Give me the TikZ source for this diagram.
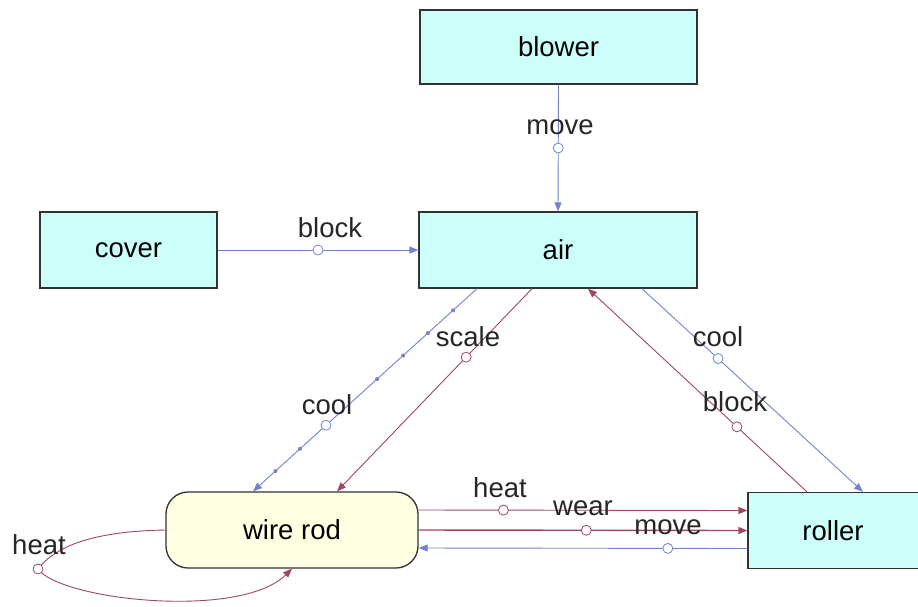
\documentclass[tikz,border=0pt]{standalone}
\usepackage{fontspec}
\setmainfont{Liberation Sans}
\usetikzlibrary{arrows.meta}
\definecolor{boxfill}{RGB}{204,255,250}
\definecolor{rodfill}{RGB}{255,255,226}
\definecolor{edgeblue}{RGB}{112,132,210}
\definecolor{edgered}{RGB}{160,70,100}
\definecolor{boxline}{RGB}{50,50,50}
\tikzset{
  objbox/.style={draw=boxline, line width=1.3pt, fill=boxfill, inner sep=0pt,
    font=\fontsize{27.5}{31}\selectfont},
  rodbox/.style={objbox, fill=rodfill, rounded corners=22pt},
  blueedge/.style={draw=edgeblue, line width=0.9pt, -{Triangle[length=9pt,width=7pt]}},
  rededge/.style={draw=edgered, line width=0.9pt, -{Triangle[length=9pt,width=7pt]}},
  ring/.style={circle, draw, fill=white, line width=0.8pt, minimum size=10pt, inner sep=0pt},
  trackdot/.style={circle, fill=edgeblue, minimum size=4pt, inner sep=0pt},
  lbl/.style={font=\fontsize{27.5}{31}\selectfont, inner sep=0pt, text=black!85},
}
\begin{document}
\begin{tikzpicture}[x=1pt,y=-1pt]
\useasboundingbox (0,0) rectangle (918,606);
\fill[white] (0,0) rectangle (918,606);

% objects
\node[objbox, minimum width=277pt, minimum height=74pt] (blower) at (558.5,47) {blower};
\node[objbox, minimum width=177pt, minimum height=76pt] (cover) at (128.5,250) {cover};
\node[objbox, minimum width=278pt, minimum height=76pt] (air) at (558,250) {air};
\node[rodbox, minimum width=252pt, minimum height=76pt] (rod) at (292,530) {wire rod};
\node[objbox, minimum width=184pt, minimum height=76pt] (roller) at (840,530.5) {\hspace*{-14pt}roller};

% blower -> air
\draw[blueedge] (blower.south) -- node[ring, draw=edgeblue, pos=0.5] (r1) {} (air.north);
\node[lbl] (l1) at (560,127) {move};

% cover -> air
\draw[blueedge] (cover.east) -- node[ring, draw=edgeblue, pos=0.5] (r2) {} (air.west);
\node[lbl] (l2) at (330,228) {block};

% air -> wire rod (cool, dotted track)
\draw[blueedge] ([xshift=-81pt]air.south) --
  node[trackdot, pos=0.107] (d1) {}
  node[trackdot, pos=0.219] (d2) {}
  node[trackdot, pos=0.330] (d3) {}
  node[trackdot, pos=0.446] (d4) {}
  node[trackdot, pos=0.790] (d5) {}
  node[trackdot, pos=0.900] (d6) {}
  node[ring, draw=edgeblue, pos=0.674] (r3) {} ([xshift=-39pt]rod.north);
\node[lbl] (l3) at (327,405) {cool};

% air -> wire rod (scale)
\draw[rededge] ([xshift=-26pt]air.south) -- node[ring, draw=edgered, pos=0.338] (r4) {} ([xshift=45pt]rod.north);
\node[lbl] (l4) at (468,337) {scale};

% air -> roller (cool)
\draw[blueedge] ([xshift=84pt]air.south) -- node[ring, draw=edgeblue, pos=0.344] (r5) {} ([xshift=23pt]roller.north);
\node[lbl] (l5) at (718,337) {cool};

% roller -> air (block)
\draw[rededge] ([xshift=-33pt]roller.north) -- node[ring, draw=edgered, pos=0.32] (r6) {} ([xshift=30pt]air.south);
\node[lbl] (l6) at (735,402) {block};

% wire rod -> roller (heat)
\draw[rededge] ([yshift=20pt]rod.east) -- node[ring, draw=edgered, pos=0.258] (r7) {} ([yshift=20pt]roller.west);
\node[lbl] (l7) at (500,488) {heat};

% wire rod -> roller (wear)
\draw[rededge, line width=1.4pt] (rod.east) -- node[ring, draw=edgered, line width=0.8pt, pos=0.51] (r8) {} (roller.west);
\node[lbl] (l8) at (583,508) {wear};

% roller -> wire rod (move)
\draw[blueedge] ([yshift=-18pt]roller.west) -- node[ring, draw=edgeblue, pos=0.242] (r9) {} ([yshift=-18pt]rod.east);
\node[lbl] (l9) at (668,527) {move};

% wire rod heats itself
\coordinate (loop) at (38,569);
\draw[edgered, line width=0.9pt] (rod.west) .. controls (110,531) and (60,540) .. (loop);
\draw[rededge] (loop) .. controls (60,600) and (240,620) .. (rod.south);
\node[ring, draw=edgered] (r10) at (loop) {};
\node[lbl] (l10) at (39,545) {heat};
\end{tikzpicture}
\end{document}
